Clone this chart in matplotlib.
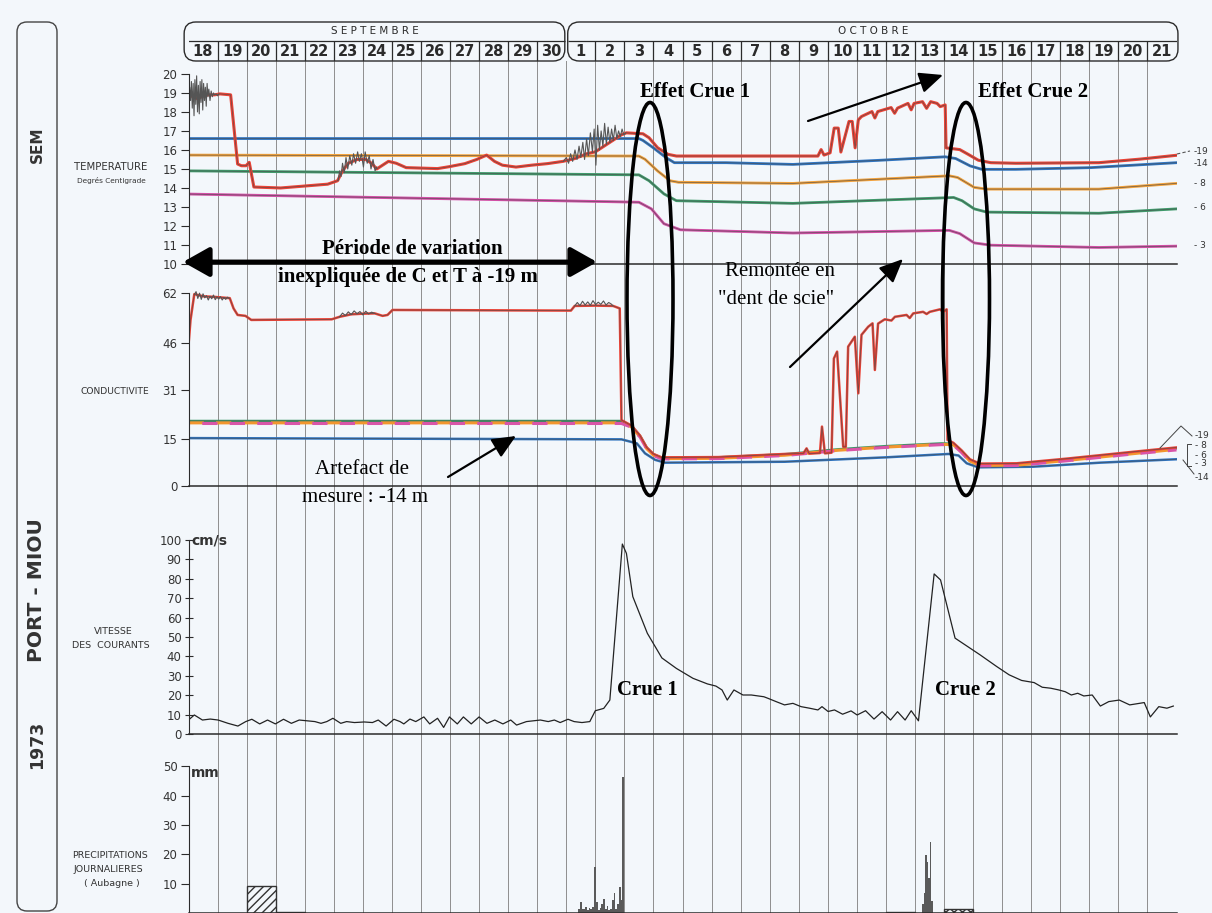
import matplotlib
matplotlib.use("Agg")
import matplotlib.pyplot as plt
from matplotlib.patches import Ellipse, FancyBboxPatch

# x unit = days since 18 sept 1973 (column "18" spans 0..1)
sept = list(range(18, 31))
octo = list(range(1, 22))

# ---- temperature (deg C) ----
t19_x = [0.00, 0.15, 0.30, 0.45, 0.60, 0.75, 0.90, 1.08, 1.45, 1.69, 1.82, 1.98, 2.09, 2.25, 3.17,
         3.98, 4.79, 5.13, 5.30, 5.50, 5.80, 6.10, 6.30, 6.48, 6.88, 7.15, 7.49, 8.57, 8.97, 9.51,
         9.92, 10.26, 10.53, 10.80, 11.27, 11.81, 12.35, 12.89, 13.30, 13.70, 14.00, 14.30, 14.60,
         14.90, 15.07, 15.64, 15.85, 16.14, 16.50, 16.79, 21.66, 21.77, 21.87, 22.08, 22.22, 22.36,
         22.45, 22.73, 22.84, 22.94, 23.05, 23.16, 23.52, 23.62, 23.72, 24.18, 24.30, 24.40, 24.76,
         24.87, 24.97, 25.26, 25.40, 25.54, 25.76, 25.87, 26.04, 26.07, 26.54, 26.83, 27.18, 27.61,
         28.47, 31.33, 32.76, 34.00]
t19_y = [18.9, 18.8, 18.7, 18.8, 18.9, 18.9, 18.9, 18.95, 18.9, 15.26, 15.17, 15.17, 15.35, 14.05,
         14.0, 14.1, 14.2, 14.38, 14.9, 15.3, 15.5, 15.5, 15.3, 15.0, 15.4, 15.3, 15.07, 15.02, 15.12,
         15.28, 15.5, 15.73, 15.4, 15.2, 15.1, 15.2, 15.28, 15.4, 15.55, 15.8, 15.9, 16.2, 16.5, 16.8,
         16.9, 16.85, 16.64, 16.12, 15.77, 15.68, 15.68, 16.02, 15.73, 15.85, 17.15, 17.15, 15.89,
         17.5, 17.5, 16.11, 17.58, 17.76, 18.02, 17.68, 18.02, 18.23, 17.93, 18.2, 18.45, 18.11,
         18.45, 18.54, 18.19, 18.54, 18.45, 18.28, 18.37, 16.11, 16.02, 15.77, 15.46, 15.33, 15.3,
         15.33, 15.52, 15.72]
# raw (noisy) -19 m record, grey
tn1_x = [0.00, 0.04, 0.07, 0.10, 0.13, 0.16, 0.19, 0.22, 0.25, 0.28, 0.31, 0.34, 0.37, 0.40, 0.43,
         0.46, 0.49, 0.52, 0.55, 0.58, 0.61, 0.64, 0.67, 0.70, 0.74, 0.78, 0.82, 0.86, 0.90, 0.95,
         1.00, 1.05]
tn1_y = [19.0, 19.3, 18.6, 19.6, 18.2, 19.5, 17.8, 19.7, 18.4, 19.9, 18.0, 19.4, 17.9, 19.6, 18.5,
         19.7, 18.1, 19.5, 18.6, 19.3, 18.3, 19.5, 18.8, 19.2, 18.6, 19.1, 18.8, 19.0, 18.9, 18.95,
         18.85, 18.95]
tn2_x = [5.15, 5.20, 5.25, 5.30, 5.36, 5.42, 5.48, 5.55, 5.62, 5.68, 5.75, 5.82, 5.88, 5.95, 6.02,
         6.08, 6.15, 6.22, 6.28, 6.35, 6.42, 6.48]
tn2_y = [14.4, 14.9, 14.6, 15.3, 14.8, 15.6, 15.0, 15.7, 15.2, 15.8, 15.3, 15.9, 15.4, 15.8, 15.1,
         15.9, 15.3, 15.7, 15.0, 15.5, 14.9, 15.1]
tn3_x = [12.90, 13.00, 13.08, 13.15, 13.22, 13.30, 13.37, 13.44, 13.50, 13.57, 13.63, 13.70, 13.76,
         13.83, 13.90, 13.96, 14.02, 14.08, 14.14, 14.20, 14.26, 14.32, 14.38, 14.44, 14.50, 14.56,
         14.62, 14.68, 14.74, 14.80, 14.86, 14.92, 14.98, 15.05]
tn3_y = [15.4, 15.6, 15.3, 15.8, 15.4, 16.0, 15.5, 16.2, 15.6, 16.4, 15.5, 16.6, 15.7, 16.9, 15.9,
         17.1, 15.2, 17.3, 16.0, 17.0, 16.2, 17.4, 16.3, 17.2, 16.4, 17.1, 16.5, 17.3, 16.6, 17.0,
         16.7, 17.1, 16.8, 16.9]
t14_x = [0, 15.50, 15.64, 15.99, 16.43, 16.72, 18.50, 20.80, 23.70, 26.04, 26.40, 26.90, 27.30,
         28.47, 31.05, 34.0]
t14_y = [16.6, 16.6, 16.5, 16.12, 15.6, 15.33, 15.33, 15.24, 15.45, 15.64, 15.55, 15.16, 14.98,
         14.98, 15.07, 15.33]
t8_x = [0, 15.50, 15.71, 16.14, 16.57, 16.86, 20.80, 26.18, 26.47, 27.04, 27.47, 31.33, 34.0]
t8_y = [15.73, 15.68, 15.51, 14.9, 14.38, 14.3, 14.24, 14.64, 14.55, 14.03, 13.94, 13.94, 14.24]
t6_x = [0, 15.50, 15.85, 16.36, 16.79, 20.80, 26.33, 26.62, 27.04, 27.47, 31.33, 34.0]
t6_y = [14.9, 14.69, 14.38, 13.69, 13.33, 13.19, 13.5, 13.33, 12.9, 12.73, 12.67, 12.9]
t3_x = [0, 15.50, 15.93, 16.36, 16.93, 20.80, 26.18, 26.54, 27.04, 27.61, 31.33, 34.0]
t3_y = [13.68, 13.25, 12.9, 12.12, 11.8, 11.63, 11.77, 11.6, 11.11, 10.99, 10.87, 10.94]

# ---- conductivity ----
c19_x = [0.00, 0.07, 0.20, 0.50, 0.90, 1.42, 1.55, 1.69, 1.96, 2.16, 4.93, 5.20, 5.60, 6.00, 6.41,
         6.68, 6.85, 7.02, 13.16, 13.29, 14.00, 14.61, 14.84, 14.90, 15.25, 15.54, 15.77, 16.00,
         16.28, 18.23, 20.52, 21.16, 21.27, 21.36, 21.73, 21.80, 21.90, 22.13, 22.21, 22.32, 22.53,
         22.62, 22.70, 22.93, 23.05, 23.16, 23.39, 23.54, 23.62, 23.73, 23.96, 24.19, 24.31, 24.71,
         24.82, 24.94, 25.28, 25.40, 25.51, 25.86, 25.97, 26.09, 26.12, 26.32, 26.60, 26.89, 27.23,
         28.50, 30.22, 32.51, 34.00]
c19_y = [45.3, 53.4, 61.7, 61.0, 60.8, 60.4, 57.1, 55.0, 54.7, 53.4, 53.6, 54.4, 55.2, 55.4, 55.5,
         54.7, 55.0, 56.6, 56.4, 57.9, 58.0, 57.9, 57.1, 21.2, 19.4, 16.2, 12.4, 10.3, 9.2, 9.3, 10.3,
         10.5, 12.1, 10.4, 10.6, 19.1, 10.5, 10.7, 41.0, 43.2, 12.6, 12.6, 44.8, 48.0, 29.8, 48.6,
         51.2, 52.3, 37.3, 52.2, 53.6, 53.2, 54.4, 55.0, 54.0, 55.5, 56.0, 55.3, 56.0, 56.8, 56.0,
         56.8, 14.8, 13.9, 11.5, 8.6, 7.2, 7.3, 8.8, 11.0, 12.4]
cn1_x = [0.20, 0.26, 0.32, 0.38, 0.44, 0.50, 0.56, 0.62, 0.68, 0.74, 0.80, 0.86, 0.92, 0.98, 1.04,
         1.10, 1.16, 1.22, 1.28, 1.34, 1.40]
cn1_y = [61.5, 62.5, 60.3, 62.0, 60.0, 61.8, 60.5, 61.2, 59.8, 61.0, 60.2, 61.4, 59.9, 60.8, 60.1,
         60.9, 59.8, 60.6, 60.0, 60.7, 60.3]
cn2_x = [5.20, 5.30, 5.40, 5.50, 5.60, 5.70, 5.80, 5.90, 6.00, 6.10, 6.20, 6.30, 6.41]
cn2_y = [54.4, 55.6, 54.8, 56.0, 55.1, 56.3, 55.4, 56.1, 55.0, 56.2, 55.3, 55.9, 55.5]
cn3_x = [13.29, 13.38, 13.47, 13.56, 13.65, 13.74, 13.83, 13.92, 14.01, 14.10, 14.19, 14.28, 14.37,
         14.46, 14.55, 14.61]
cn3_y = [57.9, 59.0, 58.0, 59.4, 58.2, 59.2, 58.1, 59.6, 58.3, 59.1, 58.4, 59.5, 58.2, 59.0, 58.5, 57.9]
cb_x = [0.0, 14.90, 15.25, 15.54, 15.77, 16.00, 16.28, 18.23, 20.52, 22.36, 23.97, 25.92, 26.32,
        26.60, 26.89, 27.23, 28.50, 30.22, 32.51, 34.00]
c6_y = [20.9, 20.9, 19.3, 16.1, 12.3, 10.2, 9.1, 9.2, 10.2, 11.8, 12.8, 13.7, 13.6, 11.2, 8.3, 6.9,
        7.0, 8.5, 10.7, 12.1]
c8_y = [20.3, 20.3, 19.0, 15.8, 12.0, 9.9, 8.8, 8.9, 9.9, 11.5, 12.5, 13.4, 13.3, 10.9, 8.0, 6.6,
        6.7, 8.2, 10.4, 11.8]
c3_y = [20.1, 20.1, 18.9, 15.7, 11.9, 9.8, 8.7, 8.8, 9.8, 11.4, 12.4, 13.3, 13.2, 10.8, 7.9, 6.5,
        6.6, 8.1, 10.3, 11.6]
c14_x = [0.0, 14.90, 15.43, 15.71, 16.06, 16.40, 20.52, 23.97, 26.15, 26.50, 26.78, 27.18, 29.07,
         31.37, 34.00]
c14_y = [15.4, 15.0, 13.7, 10.5, 8.4, 7.5, 7.8, 9.2, 10.3, 9.8, 7.3, 6.0, 6.2, 7.5, 8.6]

# ---- current speed (cm/s) ----
v_x = [0.00, 0.20, 0.48, 0.75, 1.02, 1.36, 1.70, 1.97, 2.18, 2.45, 2.72, 2.99, 3.27, 3.54, 3.81,
       4.08, 4.35, 4.56, 4.76, 4.97, 5.24, 5.44, 5.71, 6.05, 6.33, 6.53, 6.80, 7.07, 7.28, 7.41,
       7.62, 7.82, 8.10, 8.30, 8.57, 8.78, 8.98, 9.25, 9.46, 9.73, 10.00, 10.27, 10.54, 10.82, 11.09,
       11.29, 11.63, 12.11, 12.38, 12.59, 12.79, 13.06, 13.27, 13.54, 13.81, 14.00, 14.29, 14.50,
       14.93, 15.07, 15.29, 15.79, 16.29, 16.79, 17.36, 17.86, 18.15, 18.36, 18.54, 18.77, 19.08,
       19.37, 19.80, 19.94, 20.22, 20.51, 20.80, 21.08, 21.37, 21.66, 21.80, 22.01, 22.23, 22.51,
       22.80, 23.01, 23.30, 23.59, 23.87, 24.16, 24.40, 24.66, 24.87, 25.12, 25.66, 25.88, 26.38,
       26.81, 27.24, 27.81, 28.24, 28.67, 29.10, 29.38, 29.67, 29.95, 30.17, 30.38, 30.60, 30.81,
       31.10, 31.38, 31.67, 32.03, 32.39, 32.60, 32.89, 33.10, 33.39, 33.67, 33.89]
v_y = [7.2, 9.8, 7.2, 7.7, 7.2, 5.5, 4.1, 6.4, 7.6, 5.2, 7.2, 5.2, 7.6, 5.5, 7.2, 6.8, 6.4, 5.5, 6.4,
       8.1, 5.5, 6.4, 5.9, 6.2, 5.9, 7.2, 4.1, 7.6, 6.4, 5.2, 7.7, 6.4, 8.8, 5.2, 8.1, 3.4, 8.8, 5.2,
       8.8, 5.2, 8.8, 5.5, 7.2, 5.2, 7.2, 4.6, 6.4, 7.2, 6.4, 7.2, 5.9, 7.6, 6.4, 5.9, 6.4, 12.0,
       13.2, 17.5, 97.9, 93.1, 70.8, 51.9, 39.2, 33.8, 28.7, 25.8, 24.7, 22.7, 17.5, 22.7, 20.1,
       20.1, 19.2, 18.4, 16.7, 15.0, 15.8, 14.1, 13.3, 12.4, 14.1, 11.6, 12.4, 10.2, 11.9, 9.8, 12.0,
       7.7, 11.5, 7.2, 11.5, 7.2, 12.0, 6.8, 82.5, 79.4, 49.4, 45.1, 40.8, 34.8, 30.5, 27.6, 26.5,
       24.1, 23.6, 22.7, 21.8, 20.1, 21.0, 19.6, 20.1, 14.4, 16.7, 17.5, 15.0, 15.5, 16.2, 8.8,
       14.1, 13.3, 14.4]

# ---- daily precipitation, Aubagne (mm) ----
pd_x = [2.5, 3.5, 24.5, 26.5]
pd_y = [9.2, 0.5, 0.4, 1.5]
pd_hatch = ["////", "", "", "xxxx"]
ph1_x = [13.45, 13.51, 13.56, 13.62, 13.68, 13.74, 13.80, 13.86, 13.92, 14.00, 14.06, 14.12, 14.18,
         14.24, 14.30, 14.36, 14.42, 14.48, 14.54, 14.60, 14.66, 14.72, 14.78, 14.84, 14.90, 14.95]
ph1_y = [1.3, 3.6, 1.4, 1.2, 1.9, 1.0, 1.6, 1.4, 2.2, 15.8, 3.8, 1.0, 1.6, 3.1, 4.8, 1.2, 2.5, 1.0,
         1.4, 4.3, 6.8, 1.4, 3.2, 8.9, 4.4, 46.5]
ph2_x = [25.28, 25.33, 25.38, 25.43, 25.48, 25.53, 25.58]
ph2_y = [3.0, 6.8, 19.8, 17.5, 12.0, 24.3, 4.0]

# ---------------------------------------------------------------------------
W, H = 1212, 913
PAPER = "#f3f7fb"
INK = "#2b2b2b"
X0, X1, NDAYS = 188.5, 1176.5, 34
NARROW = ["Liberation Sans Narrow", "DejaVu Sans"]
SERIF = ["Liberation Serif", "DejaVu Serif"]


def frame(top, bottom, left=X0, right=X1):
    return [left / W, 1 - bottom / H, (right - left) / W, (bottom - top) / H]


def panel(top, bottom, ylim, ticks, bounds, tdir="out"):
    ax = fig.add_axes(frame(top, bottom))
    ax.patch.set_visible(False)
    ax.set_xlim(0, NDAYS); ax.set_ylim(*ylim)
    for s in ("top", "right", "bottom"):
        ax.spines[s].set_visible(False)
    ax.spines["left"].set_bounds(*bounds)
    ax.spines["left"].set_color(INK)
    ax.set_xticks([]); ax.set_yticks(ticks)
    ax.tick_params(axis="y", direction=tdir, length=6, width=0.8, labelsize=8.5,
                   labelcolor="#333", color=INK, pad=2)
    ax.axhline(ylim[0], color=INK, lw=1.1, clip_on=False)
    return ax


def trace(ax, x, y, color, lw=2.0, ls="-", edge=True):
    ax.plot(x, y, color=color, lw=lw, ls=ls)
    if edge:
        ax.plot(x, y, color="#4a4a4a", lw=0.5, alpha=0.8)


fig = plt.figure(figsize=(W / 100, H / 100), dpi=100, facecolor=PAPER)

# day grid through all panels
ax_g = fig.add_axes(frame(61, 913))
ax_g.set_xlim(0, NDAYS); ax_g.set_ylim(0, 1); ax_g.axis("off")
for d in range(1, NDAYS + 1):
    ax_g.axvline(d, color="#8e8e8e", lw=0.7)

# header: months + days
ax_h = fig.add_axes(frame(22, 61))
ax_h.set_xlim(0, NDAYS); ax_h.set_ylim(39, 0); ax_h.axis("off")
for a, b, name in [(-0.15, 12.95, "S E P T E M B R E"), (13.05, 34.05, "O C T O B R E")]:
    ax_h.add_patch(FancyBboxPatch((a, 0), b - a, 39, boxstyle="round,pad=0,rounding_size=0.4",
                                  mutation_aspect=29, fc="none", ec=INK, lw=1.0, clip_on=False))
    ax_h.text((a + b) / 2, 9.5, name, ha="center", va="center", fontsize=7.5, color=INK)
    ax_h.hlines(19.5, a, b, color=INK, lw=0.9)
for d in range(1, NDAYS):
    if d != 13:
        ax_h.vlines(d, 19.5, 39, color=INK, lw=0.9)
for i, lab in enumerate(sept + octo):
    ax_h.text(i + 0.5, 29.5, str(lab), ha="center", va="center", fontsize=10.5,
              fontweight="bold", family=NARROW, color=INK)

# temperature
ax_t = panel(61, 264, (10, 20.68), range(10, 21), (10, 20))
trace(ax_t, t3_x, t3_y, "#d24fa6")
trace(ax_t, t6_x, t6_y, "#3f9a6b")
trace(ax_t, t8_x, t8_y, "#f2a13a")
trace(ax_t, t14_x, t14_y, "#2f74c0")
trace(ax_t, t19_x, t19_y, "#ec4336", lw=2.2)
for nx, ny in [(tn1_x, tn1_y), (tn2_x, tn2_y), (tn3_x, tn3_y)]:
    ax_t.plot(nx, ny, color="#555555", lw=0.8)

# conductivity
ax_c = panel(270, 486, (0, 69.45), [0, 15, 31, 46, 62], (0, 62))
trace(ax_c, c14_x, c14_y, "#2f74c0", lw=1.8)
trace(ax_c, cb_x, c6_y, "#3f9a6b", lw=1.8)
ax_c.plot(cb_x, c8_y, color="#f2962e", lw=2.2, ls=(0, (5, 4)))
ax_c.plot(cb_x, c3_y, color="#d955a8", lw=2.2, ls=(4.5, (5, 4)))
trace(ax_c, c19_x, c19_y, "#ec4336", lw=1.8)
for nx, ny in [(cn1_x, cn1_y), (cn2_x, cn2_y), (cn3_x, cn3_y)]:
    ax_c.plot(nx, ny, color="#555555", lw=0.8)

# current speed
ax_v = panel(500, 734, (0, 120.6), range(0, 101, 10), (0, 100), tdir="inout")
ax_v.plot(v_x, v_y, color="#222222", lw=0.9)

# precipitation
ax_p = panel(745, 913, (0, 57.3), [10, 20, 30, 40, 50], (0, 50))
for x, y, h in zip(pd_x, pd_y, pd_hatch):
    ax_p.bar(x, y, width=1.0, fc="none", ec="#333333", lw=1.0, hatch=h)
ax_p.bar(ph1_x, ph1_y, width=0.06, color="#5a5a5a")
ax_p.bar(ph2_x, ph2_y, width=0.06, color="#5a5a5a")

# ---- overlay: frame, labels, annotations (pixel coordinates) ----
ov = fig.add_axes([0, 0, 1, 1])
ov.set_xlim(0, W); ov.set_ylim(H, 0); ov.axis("off"); ov.patch.set_visible(False)

ov.add_patch(FancyBboxPatch((17, 22), 40, 889, boxstyle="round,pad=0,rounding_size=10",
                            fc="none", ec="#444444", lw=1.0))
for y, s, fs in [(145, "SEM", 11), (590, "PORT - MIOU", 14.5), (745, "1973", 12.5)]:
    ov.text(37, y, s, rotation=90, ha="center", va="center", fontsize=fs,
            fontweight="bold", family=NARROW, color="#333")

lab = dict(ha="center", va="center", color="#333", family="DejaVu Sans")
ov.text(111, 167, "TEMPERATURE", fontsize=7.3, **lab)
ov.text(111, 180, "Degrés Centigrade", fontsize=5.3, **lab)
ov.text(115, 391, "CONDUCTIVITE", fontsize=6.6, **lab)
ov.text(113, 632, "VITESSE", fontsize=6.8, **lab)
ov.text(111, 645, "DES  COURANTS", fontsize=6.8, **lab)
ov.text(110, 855, "PRECIPITATIONS", fontsize=6.8, **lab)
ov.text(108, 869, "JOURNALIERES", fontsize=6.8, **lab)
ov.text(112, 884, "( Aubagne )", fontsize=6.8, **lab)
ov.text(191, 541, "cm/s", ha="left", va="center", fontsize=10, fontweight="bold",
        family=NARROW, color="#333")
ov.text(191, 773, "mm", ha="left", va="center", fontsize=10, fontweight="bold",
        family=NARROW, color="#333")

# depth labels at the right edge
small = dict(ha="left", va="center", fontsize=6.5, family=NARROW, color="#333")
ov.plot([1177, 1190], [154, 151], color="#555", lw=0.8, ls=(0, (3, 2)))
for y, s in [(151, "-19"), (163, "-14"), (184, "- 8"), (208, "- 6"), (245, "- 3")]:
    ov.text(1194, y, s, **small)
for y, s in [(436, "-19"), (446, "- 8"), (455, "- 6"), (464, "- 3"), (478, "-14")]:
    ov.text(1195, y, s, **small)
ov.plot([1160, 1181, 1192], [448, 426, 436], color="#444", lw=0.7)
ov.plot([1183, 1194], [460, 474], color="#444", lw=0.7)
ov.plot([1191, 1187, 1187, 1191], [444, 444, 466, 466], color="#444", lw=0.7)

# annotations
bold = dict(ha="center", va="center", fontsize=15, fontweight="bold", family=SERIF, color="k")
reg = dict(ha="center", va="center", fontsize=15, family=SERIF, color="k")
ov.text(412, 249, "Période de variation", **bold)
ov.text(408, 277, "inexpliquée de C et T à -19 m", **bold)
ov.text(695, 92, "Effet Crue 1", **bold)
ov.text(1033, 92, "Effet Crue 2", **bold)
ov.text(647, 690, "Crue 1", **bold)
ov.text(965, 690, "Crue 2", **bold)
ov.text(780, 272, "Remontée en", **reg)
ov.text(776, 300, "\"dent de scie\"", **reg)
ov.text(362, 469, "Artefact de", **reg)
ov.text(365, 497, "mesure : -14 m", **reg)

ov.annotate("", xy=(597, 262), xytext=(183, 262),
            arrowprops=dict(arrowstyle="<|-|>,head_length=0.8,head_width=0.45", lw=3.5,
                            color="k", mutation_scale=20, shrinkA=0, shrinkB=0))
thin = dict(arrowstyle="-|>,head_length=0.9,head_width=0.4", lw=1.6, color="k",
            mutation_scale=16, shrinkA=0, shrinkB=0)
ov.annotate("", xy=(943, 75), xytext=(808, 121), arrowprops=thin)
ov.annotate("", xy=(903, 259), xytext=(790, 367), arrowprops=thin)
ov.annotate("", xy=(516, 436), xytext=(448, 477), arrowprops=thin)

ov.add_patch(Ellipse((650, 299), 46, 393, fill=False, ec="k", lw=2.6))
ov.add_patch(Ellipse((966, 299), 47, 393, fill=False, ec="k", lw=2.6))

fig.savefig("out.png", dpi=100, facecolor=PAPER)
